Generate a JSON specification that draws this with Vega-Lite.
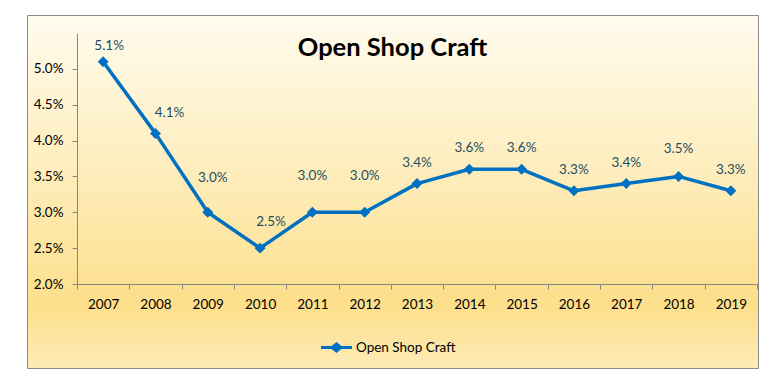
{
  "$schema": "https://vega.github.io/schema/vega-lite/v6.json",
  "autosize": "none",
  "width": 731,
  "height": 353,
  "padding": {"left": 27, "top": 15, "right": 8, "bottom": 5},
  "background": "#ffffff",
  "config": {
    "font": "Lato",
    "view": {
      "stroke": "#8c8c8c",
      "strokeWidth": 1,
      "fill": {
        "gradient": "linear",
        "x1": 0, "y1": 0, "x2": 0, "y2": 1,
        "stops": [
          {"offset": 0, "color": "#FFFBEE"},
          {"offset": 0.45, "color": "#FEEDBB"},
          {"offset": 0.82, "color": "#FDDF8B"},
          {"offset": 1, "color": "#FEEBB6"}
        ]
      }
    }
  },
  "title": {
    "text": "Open Shop Craft",
    "font": "Lato",
    "fontSize": 25.5,
    "fontWeight": "bold",
    "color": "#000000",
    "anchor": "middle",
    "baseline": "alphabetic",
    "offset": -66
  },
  "data": {
    "values": [
      {"year": "2007", "rate": 0.051, "series": "Open Shop Craft"},
      {"year": "2008", "rate": 0.041, "series": "Open Shop Craft"},
      {"year": "2009", "rate": 0.030, "series": "Open Shop Craft"},
      {"year": "2010", "rate": 0.025, "series": "Open Shop Craft"},
      {"year": "2011", "rate": 0.030, "series": "Open Shop Craft"},
      {"year": "2012", "rate": 0.030, "series": "Open Shop Craft"},
      {"year": "2013", "rate": 0.034, "series": "Open Shop Craft"},
      {"year": "2014", "rate": 0.036, "series": "Open Shop Craft"},
      {"year": "2015", "rate": 0.036, "series": "Open Shop Craft"},
      {"year": "2016", "rate": 0.033, "series": "Open Shop Craft"},
      {"year": "2017", "rate": 0.034, "series": "Open Shop Craft"},
      {"year": "2018", "rate": 0.035, "series": "Open Shop Craft"},
      {"year": "2019", "rate": 0.033, "series": "Open Shop Craft"}
    ]
  },
  "encoding": {
    "x": {
      "field": "year",
      "type": "ordinal",
      "scale": {"range": [50, 730], "paddingInner": 0, "paddingOuter": 0},
      "axis": {
        "title": null,
        "offset": -84,
        "labelAngle": 0,
        "labelFont": "Lato",
        "labelFontSize": 13.5,
        "labelColor": "#000000",
        "labelPadding": 8,
        "tickBand": "extent",
        "tickSize": 5,
        "tickColor": "#868686",
        "domainColor": "#868686",
        "grid": false
      }
    },
    "y": {
      "field": "rate",
      "type": "quantitative",
      "scale": {"domain": [0.02, 0.055], "range": [269, 18], "nice": false, "zero": false},
      "axis": {
        "title": null,
        "offset": -50,
        "format": ".1%",
        "values": [0.02, 0.025, 0.03, 0.035, 0.04, 0.045, 0.05],
        "labelFont": "Lato",
        "labelFontSize": 13.5,
        "labelColor": "#000000",
        "labelPadding": 9,
        "tickSize": 5,
        "tickColor": "#868686",
        "domainColor": "#868686",
        "grid": false
      }
    },
    "text": {"field": "rate", "type": "quantitative", "format": ".1%"}
  },
  "layer": [
    {
      "mark": {"type": "line", "strokeWidth": 3.5, "strokeJoin": "round"},
      "encoding": {
        "text": null,
        "color": {
          "field": "series",
          "type": "nominal",
          "scale": {"range": ["#0070C0"]},
          "legend": {
            "title": null,
            "orient": "none",
            "legendX": 294,
            "legendY": 317,
            "padding": 0,
            "symbolType": "M-1,-0.1H-0.32L0,-0.36L0.32,-0.1H1V0.1H0.32L0,0.36L-0.32,0.1H-1Z",
            "symbolSize": 961,
            "symbolStrokeWidth": 0,
            "symbolFillColor": "#0070C0",
            "labelFont": "Lato",
            "labelFontSize": 13.5,
            "labelColor": "#000000",
            "labelOffset": 4,
            "encode": {
              "symbols": {"update": {"fill": {"value": "#0070C0"}, "strokeWidth": {"value": 0}}}
            }
          }
        }
      }
    },
    {
      "mark": {"type": "point", "shape": "diamond", "filled": true, "size": 120, "opacity": 1, "color": "#0070C0"},
      "encoding": {"text": null}
    },
    {
      "transform": [{"filter": {"field": "year", "oneOf": ["2013", "2014", "2015", "2016", "2017", "2019"]}}],
      "mark": {"type": "text", "dy": -21, "font": "Lato", "fontSize": 13.5, "color": "#1F4E63"}
    },
    {
      "transform": [{"filter": {"field": "year", "equal": "2007"}}],
      "mark": {"type": "text", "dy": -16, "dx": 6, "font": "Lato", "fontSize": 13.5, "color": "#1F4E63"}
    },
    {
      "transform": [{"filter": {"field": "year", "equal": "2008"}}],
      "mark": {"type": "text", "dy": -20, "dx": 14, "font": "Lato", "fontSize": 13.5, "color": "#1F4E63"}
    },
    {
      "transform": [{"filter": {"field": "year", "equal": "2009"}}],
      "mark": {"type": "text", "dy": -34, "dx": 5, "font": "Lato", "fontSize": 13.5, "color": "#1F4E63"}
    },
    {
      "transform": [{"filter": {"field": "year", "equal": "2010"}}],
      "mark": {"type": "text", "dy": -26, "dx": 11, "font": "Lato", "fontSize": 13.5, "color": "#1F4E63"}
    },
    {
      "transform": [{"filter": {"field": "year", "oneOf": ["2011", "2012"]}}],
      "mark": {"type": "text", "dy": -36, "font": "Lato", "fontSize": 13.5, "color": "#1F4E63"}
    },
    {
      "transform": [{"filter": {"field": "year", "equal": "2018"}}],
      "mark": {"type": "text", "dy": -27, "font": "Lato", "fontSize": 13.5, "color": "#1F4E63"}
    }
  ]
}
